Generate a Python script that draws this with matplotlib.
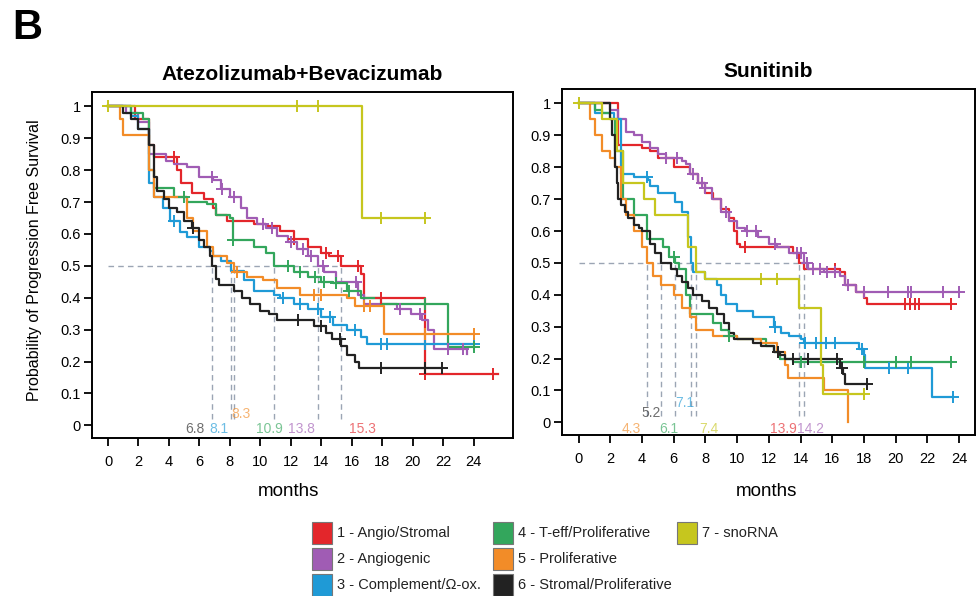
import numpy as np
import matplotlib
matplotlib.use("Agg")
import matplotlib.pyplot as plt
from matplotlib.patches import Rectangle

plt.rcParams["font.family"] = ["Liberation Sans", "DejaVu Sans"]

# --- groups ---
GROUPS = ["1 - Angio/Stromal", "2 - Angiogenic", "3 - Complement/\u03a9-ox.",
          "4 - T-eff/Proliferative", "5 - Proliferative",
          "6 - Stromal/Proliferative", "7 - snoRNA"]
COLORS = ["#e3262b", "#a05cb4", "#1f9ad6", "#33a65c", "#f28c28", "#222222", "#c6c61e"]

# --- Atezolizumab+Bevacizumab : step times, survival, censor times ---
ab1_t = [0, 1.8, 2.7, 3.0, 4.5, 4.8, 5.5, 6.3, 6.9, 7.1, 7.8, 9.6, 10.4, 11.3, 12.2, 13.1,
         14.0, 14.5, 15.3, 16.6, 16.8, 20.8, 25.6]
ab1_s = [1, 0.96, 0.88, 0.84, 0.80, 0.76, 0.73, 0.71, 0.68, 0.66, 0.64, 0.63, 0.625, 0.61,
         0.585, 0.56, 0.54, 0.53, 0.50, 0.475, 0.40, 0.16, 0.16]
ab1_c = [4.3, 12.2, 14.3, 15.1, 16.4, 17.9, 20.8, 25.3]

ab2_t = [0, 1.2, 2.0, 2.7, 3.8, 4.3, 5.2, 6.0, 6.9, 7.4, 8.0, 8.7, 9.1, 9.8, 10.4, 11.1,
         11.8, 12.4, 13.1, 13.8, 14.2, 15.0, 16.4, 16.8, 19.0, 19.9, 20.6, 21.0, 21.4, 23.6]
ab2_s = [1, 0.98, 0.95, 0.85, 0.83, 0.82, 0.81, 0.78, 0.77, 0.74, 0.715, 0.68, 0.65, 0.63,
         0.62, 0.595, 0.575, 0.553, 0.53, 0.50, 0.48, 0.45, 0.41, 0.38, 0.365, 0.35, 0.33,
         0.30, 0.24, 0.225]
ab2_c = [6.8, 7.5, 8.3, 10.2, 10.8, 12.0, 12.8, 13.3, 14.1, 16.3, 19.2, 20.5, 22.3, 23.3]

ab3_t = [0, 1.5, 2.0, 2.7, 3.0, 3.6, 4.1, 4.7, 5.2, 6.0, 6.7, 6.9, 7.4, 8.1, 8.9, 9.6,
         10.9, 11.3, 12.2, 13.1, 14.0, 14.8, 15.7, 16.6, 17.0, 24.0]
ab3_s = [1, 0.97, 0.93, 0.76, 0.715, 0.68, 0.64, 0.605, 0.59, 0.56, 0.548, 0.53, 0.515,
         0.485, 0.455, 0.42, 0.41, 0.40, 0.38, 0.365, 0.34, 0.313, 0.30, 0.276, 0.255, 0.255]
ab3_c = [4.3, 11.5, 12.6, 13.8, 14.6, 16.2, 17.9, 18.3, 20.8, 24.0]

ab4_t = [0, 1.5, 2.3, 2.7, 3.0, 4.3, 5.2, 6.5, 7.1, 8.0, 8.2, 9.6, 10.4, 10.9, 12.2, 13.1,
         14.0, 14.8, 15.7, 16.6, 17.9, 22.3, 24.0]
ab4_s = [1, 0.98, 0.96, 0.80, 0.745, 0.715, 0.70, 0.695, 0.66, 0.65, 0.58, 0.56, 0.54,
         0.50, 0.48, 0.465, 0.45, 0.445, 0.42, 0.40, 0.38, 0.245, 0.245]
ab4_c = [5.0, 8.2, 11.8, 12.6, 13.6, 14.2, 15.0, 15.8, 20.8, 24.0]

ab5_t = [0, 0.8, 1.0, 2.7, 3.0, 5.2, 5.6, 6.5, 6.9, 7.8, 8.3, 9.1, 10.2, 11.1, 12.6, 15.7,
         16.2, 18.1, 24.0]
ab5_s = [1, 0.96, 0.91, 0.80, 0.715, 0.65, 0.61, 0.56, 0.53, 0.51, 0.48, 0.465, 0.455,
         0.43, 0.41, 0.40, 0.375, 0.285, 0.285]
ab5_c = [8.5, 13.5, 14.0, 16.8, 17.2, 20.8, 24.0]

ab6_t = [0, 1.0, 1.5, 2.0, 2.7, 3.0, 3.2, 3.7, 4.0, 4.5, 5.0, 5.5, 6.0, 6.3, 6.7, 6.8, 7.1,
         7.3, 8.3, 8.8, 9.3, 10.0, 10.6, 11.1, 13.5, 14.3, 14.7, 15.3, 15.7, 16.2, 16.5, 21.9]
ab6_s = [1, 0.98, 0.96, 0.93, 0.88, 0.78, 0.735, 0.71, 0.68, 0.668, 0.64, 0.62, 0.58, 0.56,
         0.53, 0.50, 0.46, 0.44, 0.42, 0.40, 0.38, 0.36, 0.35, 0.33, 0.31, 0.29, 0.27, 0.25,
         0.22, 0.20, 0.18, 0.18]
ab6_c = [5.6, 12.5, 14.0, 15.2, 17.9, 20.8, 21.9]

ab7_t = [0, 16.7, 20.8]
ab7_s = [1, 0.65, 0.65]
ab7_c = [0, 12.4, 13.8, 17.9, 20.8]

# --- Sunitinib ---
su1_t = [0, 2.5, 4.0, 4.5, 5.0, 6.0, 7.0, 7.5, 8.0, 8.5, 9.0, 9.5, 9.8, 10.0, 10.2, 13.5,
         13.9, 14.2, 16.5, 16.8, 17.5, 18.0, 18.2, 23.5]
su1_s = [1, 0.87, 0.86, 0.85, 0.83, 0.80, 0.78, 0.75, 0.72, 0.70, 0.67, 0.64, 0.60, 0.56,
         0.55, 0.53, 0.50, 0.48, 0.47, 0.43, 0.41, 0.39, 0.37, 0.37]
su1_c = [10.5, 16.2, 20.6, 20.9, 21.2, 21.5, 23.5]

su2_t = [0, 2.0, 2.5, 3.0, 3.5, 4.0, 4.5, 5.0, 5.5, 6.5, 6.8, 7.0, 7.5, 8.0, 8.4, 9.0, 9.5,
         10.0, 10.5, 11.3, 12.0, 12.5, 13.3, 14.2, 14.5, 15.5, 16.5, 16.8, 17.5, 24.0]
su2_s = [1, 0.98, 0.95, 0.91, 0.90, 0.88, 0.86, 0.84, 0.83, 0.82, 0.81, 0.78, 0.75, 0.735,
         0.70, 0.66, 0.63, 0.61, 0.60, 0.58, 0.56, 0.55, 0.53, 0.50, 0.48, 0.47, 0.46, 0.43,
         0.41, 0.41]
su2_c = [5.5, 6.2, 7.2, 7.8, 8.0, 9.3, 10.6, 11.2, 12.4, 13.8, 14.0, 14.4, 14.8, 15.2,
         15.7, 16.2, 17.0, 18.0, 19.5, 20.8, 21.0, 23.0, 24.0]

su3_t = [0, 1.0, 2.2, 2.7, 3.5, 4.4, 4.5, 5.0, 6.1, 6.5, 6.9, 7.1, 7.2, 8.0, 8.7, 9.0, 9.3,
         10.0, 11.0, 12.3, 12.8, 13.3, 14.0, 14.2, 17.7, 18.0, 18.1, 22.3, 23.6]
su3_s = [1, 0.97, 0.95, 0.78, 0.77, 0.76, 0.74, 0.72, 0.69, 0.66, 0.58, 0.50, 0.47, 0.45,
         0.43, 0.40, 0.37, 0.35, 0.33, 0.30, 0.28, 0.27, 0.26, 0.25, 0.23, 0.21, 0.17, 0.08,
         0.08]
su3_c = [4.3, 12.4, 14.3, 15.0, 15.6, 16.2, 17.9, 19.6, 20.8, 23.6]

su4_t = [0, 1.0, 1.5, 2.0, 2.3, 2.8, 3.5, 4.3, 5.3, 5.7, 6.1, 6.3, 6.8, 7.0, 8.5, 9.0, 9.5,
         10.0, 11.8, 12.3, 12.7, 13.5, 23.5]
su4_s = [1, 0.98, 0.97, 0.95, 0.85, 0.70, 0.65, 0.575, 0.55, 0.52, 0.50, 0.48, 0.40, 0.34,
         0.31, 0.29, 0.27, 0.26, 0.24, 0.22, 0.20, 0.19, 0.19]
su4_c = [6.0, 9.5, 14.0, 18.0, 20.0, 21.0, 23.5]

su5_t = [0, 0.7, 1.0, 1.5, 2.0, 2.3, 2.7, 3.0, 3.5, 4.0, 4.3, 4.7, 5.2, 6.0, 6.5, 7.0, 7.4,
         8.5, 10.0, 11.5, 12.5, 13.0, 13.2, 15.5, 17.0]
su5_s = [1, 0.95, 0.90, 0.85, 0.83, 0.80, 0.70, 0.65, 0.60, 0.55, 0.50, 0.46, 0.43, 0.40,
         0.36, 0.33, 0.29, 0.27, 0.26, 0.25, 0.22, 0.18, 0.14, 0.10, 0.0]
su5_c = [12.6]

su6_t = [0, 2.0, 2.1, 2.3, 2.4, 2.5, 2.7, 2.9, 3.1, 3.5, 3.8, 4.0, 4.5, 4.8, 5.2, 5.8, 6.2,
         6.5, 6.9, 7.2, 7.8, 8.2, 8.7, 9.2, 9.5, 9.8, 11.0, 11.5, 12.3, 12.7, 13.0, 16.5,
         16.7, 16.8, 18.2]
su6_s = [1, 0.95, 0.90, 0.80, 0.75, 0.70, 0.68, 0.66, 0.64, 0.62, 0.61, 0.60, 0.56, 0.53,
         0.50, 0.48, 0.46, 0.44, 0.42, 0.40, 0.38, 0.36, 0.34, 0.31, 0.28, 0.26, 0.25, 0.24,
         0.22, 0.21, 0.20, 0.17, 0.15, 0.12, 0.12]
su6_c = [12.6, 13.5, 14.5, 16.3, 16.6, 18.2]

su7_t = [0, 1.5, 2.4, 2.8, 4.1, 4.8, 6.9, 7.4, 8.0, 13.9, 15.3, 15.4, 18.0]
su7_s = [1, 0.95, 0.85, 0.75, 0.70, 0.65, 0.55, 0.47, 0.45, 0.36, 0.18, 0.09, 0.09]
su7_c = [0, 11.5, 12.5, 18.0]

# median PFS (months), group index of each
AB_MEDIANS = [6.8, 8.1, 8.3, 10.9, 13.8, 15.3]
AB_MED_GROUP = [5, 2, 4, 3, 1, 0]
SU_MEDIANS = [4.3, 5.2, 6.1, 7.1, 7.4, 13.9, 14.2]
SU_MED_GROUP = [4, 5, 3, 2, 6, 0, 1]

YTICKS = [0, 0.1, 0.2, 0.3, 0.4, 0.5, 0.6, 0.7, 0.8, 0.9, 1]
YTICKLABELS = ["0", "0.1", "0.2", "0.3", "0.4", "0.5", "0.6", "0.7", "0.8", "0.9", "1"]
XTICKS = list(range(0, 25, 2))

# label placement (x, y) for the median numbers
AB_LABEL_POS = [(5.7, -0.012), (7.3, -0.012), (8.7, 0.035), (10.6, -0.012),
                (12.7, -0.012), (16.7, -0.012)]
SU_LABEL_POS = [(3.3, -0.02), (4.6, 0.028), (5.7, -0.02), (6.7, 0.06), (8.2, -0.02),
                (12.9, -0.02), (14.6, -0.02)]

MED_COLOR = "#9ba5b4"


def draw_panel(ax, curves, medians, med_groups, label_pos, title, xlim):
    # median guides first (under curves)
    ax.plot([0, max(medians)], [0.5, 0.5], ls=(0, (4, 3)), color=MED_COLOR, lw=1, zorder=1)
    for m in medians:
        ax.plot([m, m], [0.02, 0.5], ls=(0, (4, 3)), color=MED_COLOR, lw=1, zorder=1)
    for (t, s, c), col in zip(curves, COLORS):
        t = np.asarray(t)
        s = np.asarray(s)
        ax.step(t, s, where="post", color=col, lw=1.6, zorder=3)
        c = np.asarray(c)
        idx = np.searchsorted(t, c, side="right") - 1
        ax.plot(c, s[idx], ls="none", marker="+", ms=8, mew=1.4, color=col, zorder=4)
    for m, g, (lx, ly) in zip(medians, med_groups, label_pos):
        ax.text(lx, ly, f"{m:.1f}", color=COLORS[g], fontsize=10, ha="center", va="center",
                alpha=0.65, zorder=5)
    ax.set_xlim(*xlim)
    ax.set_ylim(-0.04, 1.045)
    ax.set_xticks(XTICKS)
    ax.set_yticks(YTICKS)
    ax.set_yticklabels(YTICKLABELS)
    ax.tick_params(axis="x", direction="out", length=6, width=1.3, pad=6, labelsize=10.5)
    ax.tick_params(axis="y", direction="out", length=6, width=1.3, pad=2, labelsize=10.5)
    for sp in ax.spines.values():
        sp.set_linewidth(1.4)
    ax.set_title(title, fontsize=15, fontweight="bold", pad=9)


fig = plt.figure(figsize=(9.77, 5.96), dpi=100)
ax1 = fig.add_axes([0.0942, 0.265, 0.431, 0.5805])
ax2 = fig.add_axes([0.575, 0.270, 0.4227, 0.5805])

ab_curves = [(ab1_t, ab1_s, ab1_c), (ab2_t, ab2_s, ab2_c), (ab3_t, ab3_s, ab3_c),
             (ab4_t, ab4_s, ab4_c), (ab5_t, ab5_s, ab5_c), (ab6_t, ab6_s, ab6_c),
             (ab7_t, ab7_s, ab7_c)]
su_curves = [(su1_t, su1_s, su1_c), (su2_t, su2_s, su2_c), (su3_t, su3_s, su3_c),
             (su4_t, su4_s, su4_c), (su5_t, su5_s, su5_c), (su6_t, su6_s, su6_c),
             (su7_t, su7_s, su7_c)]

draw_panel(ax1, ab_curves, AB_MEDIANS, AB_MED_GROUP, AB_LABEL_POS,
           "Atezolizumab+Bevacizumab", (-1.05, 26.6))
draw_panel(ax2, su_curves, SU_MEDIANS, SU_MED_GROUP, SU_LABEL_POS,
           "Sunitinib", (-1.07, 25.0))

fig.text(288 / 977, 1 - 492 / 596, "months", fontsize=13.5, ha="center", va="center")
fig.text(766 / 977, 1 - 492 / 596, "months", fontsize=13.5, ha="center", va="center")
fig.text(35 / 977, 1 - 260 / 596, "Probability of Progression Free Survival", fontsize=11.5,
         rotation=90, ha="center", va="center")
fig.text(12 / 977, 1 - 28 / 596, "B", fontsize=30, fontweight="bold", ha="left", va="center")

# legend: three columns of colour squares
col_x = [312, 493, 677]
row_y = [522, 548, 574]
for i, (lab, col) in enumerate(zip(GROUPS, COLORS)):
    cx = col_x[i // 3]
    ry = row_y[i % 3]
    fig.patches.append(Rectangle((cx / 977, 1 - (ry + 22) / 596), 20 / 977, 22 / 596,
                                 transform=fig.transFigure, facecolor=col,
                                 edgecolor="#777777", linewidth=0.8))
    fig.text((cx + 25) / 977, 1 - (ry + 11) / 596, lab, fontsize=10.5, ha="left",
             va="center", color="#222222")

fig.savefig("out.png", dpi=100)
